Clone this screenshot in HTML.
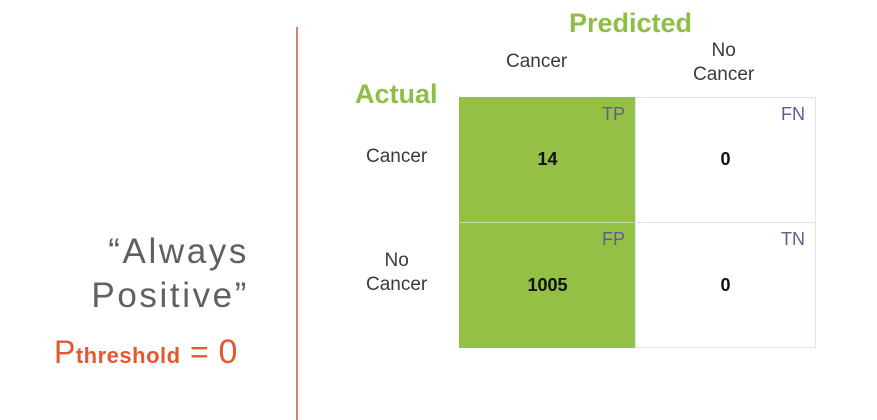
<!DOCTYPE html>
<html><head><meta charset="utf-8"><style>
body{margin:0;width:877px;height:420px;background:#fff;position:relative;overflow:hidden;font-family:"Liberation Sans",sans-serif}
.a{position:absolute;white-space:nowrap}
.lab{font-size:19px;color:#3a3a3a;text-align:center}
.cell{position:absolute;box-sizing:border-box;border:1px solid #dce6f0}
.tag{position:absolute;right:10px;top:6px;font-size:18px;color:#5f5c93}
.val{position:absolute;left:0;right:0;text-align:center;font-weight:bold;font-size:18px;color:#111}
</style></head><body>
<div class="a" style="left:296px;top:27px;width:2px;height:393px;background:#d9826a"></div>
<div class="a" style="right:628px;top:230px;font-size:35px;color:#606060;text-align:right;line-height:44px;letter-spacing:2.6px">“Always<br>Positive”</div>
<div class="a" style="left:54px;top:333px;font-size:32px;color:#e4582f;letter-spacing:0.5px">P<span style="font-size:22px;font-weight:bold">threshold</span> = <span style="font-size:34px">0</span></div>
<div class="a" style="left:569px;top:8px;font-size:27px;font-weight:bold;color:#8dbf45">Predicted</div>
<div class="a" style="left:355px;top:79px;font-size:27px;font-weight:bold;color:#8dbf45">Actual</div>
<div class="a lab" style="left:506px;top:51px">Cancer</div>
<div class="a lab" style="left:693px;top:39px;line-height:24px">No<br>Cancer</div>
<div class="a lab" style="left:366px;top:146px">Cancer</div>
<div class="a lab" style="left:366px;top:249px;line-height:24px">No<br>Cancer</div>
<div class="cell" style="left:459px;top:97px;width:177px;height:126px;background:#94c046;border-color:#94c046"><span class="tag">TP</span><span class="val" style="top:51px">14</span></div>
<div class="cell" style="left:635px;top:97px;width:181px;height:126px"><span class="tag">FN</span><span class="val" style="top:51px">0</span></div>
<div class="cell" style="left:459px;top:222px;width:177px;height:126px;background:#94c046;border-color:#94c046;border-top-color:#c8e0a0"><span class="tag">FP</span><span class="val" style="top:52px">1005</span></div>
<div class="cell" style="left:635px;top:222px;width:181px;height:126px"><span class="tag">TN</span><span class="val" style="top:52px">0</span></div>
</body></html>
